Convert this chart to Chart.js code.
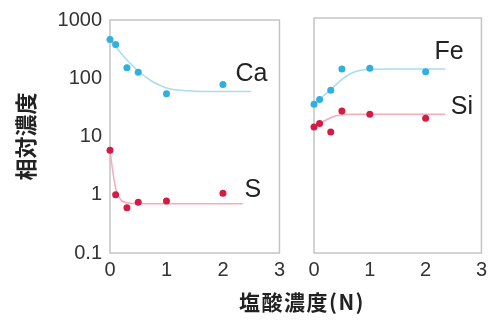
<!DOCTYPE html>
<html>
<head>
<meta charset="utf-8">
<script src="https://cdn.jsdelivr.net/npm/chart.js@4"></script>
<style>
  html, body { margin: 0; padding: 0; background: #fff; }
  #wrap { position: relative; width: 492px; height: 323px; overflow: hidden; }
  #left { position: absolute; left: 0; top: 0; }
  #right { position: absolute; left: 290px; top: 0; }
  #xtitle {
    position: absolute; left: 302px; top: 289px; transform: translateX(-50%);
    font: bold 21px "Noto Sans CJK JP", sans-serif; line-height: 24px;
    letter-spacing: 1.5px; color: #222; white-space: nowrap;
  }
</style>
</head>
<body>
<div id="wrap">
  <canvas id="left" width="290" height="323"></canvas>
  <canvas id="right" width="202" height="323"></canvas>
  <div id="xtitle">塩酸濃度(N)</div>
</div>
<script>
  // 目盛り
  const X_TICKS = [0, 1, 2, 3];
  const Y_TICKS = [0.1, 1, 10, 100, 1000];

  // 測定点 (x: 塩酸濃度 N)
  const X_MEAS = [0, 0.1, 0.3, 0.5, 1, 2];
  const CA = [462, 380, 152, 127, 54, 78];
  const S = [5.8, 1.0, 0.6, 0.74, 0.78, 1.06];
  const FE = [34, 41, 59, 135, 139, 122];
  const SI = [14, 16, 11.5, 26, 23, 19.7];

  // 近似曲線
  const CA_FIT_X = [0, 0.1, 0.2, 0.3, 0.4, 0.5, 0.75, 1.0, 1.25, 1.5, 2.0, 2.5];
  const CA_FIT = [462, 350, 265, 205, 165, 132, 88, 68, 62, 60, 59, 59];
  const S_FIT_X = [0, 0.05, 0.1, 0.15, 0.2, 0.3, 0.5, 1.0, 2.35];
  const S_FIT = [5.8, 2.5, 1.3, 0.95, 0.8, 0.73, 0.70, 0.70, 0.70];
  const FE_FIT_X = [0, 0.1, 0.2, 0.3, 0.4, 0.5, 0.6, 0.7, 0.8, 1.0, 1.5, 2.35];
  const FE_FIT = [34, 41, 50, 60, 74, 90, 105, 118, 127, 134, 136, 136];
  const SI_FIT_X = [0, 0.1, 0.2, 0.3, 0.4, 0.5, 0.75, 1.0, 2.35];
  const SI_FIT = [14, 15.8, 18, 20, 21.7, 22.6, 23, 23, 23];

  // 系列ラベル (データ座標)
  const LEFT_LABELS = [
    { text: 'Ca', x: 2.22, y: 120 },
    { text: 'S', x: 2.38, y: 1.2 },
  ];
  const RIGHT_LABELS = [
    { text: 'Fe', x: 2.16, y: 265 },
    { text: 'Si', x: 2.45, y: 30 },
  ];

  const BLUE = '#2fb0de';
  const RED = '#d31c45';
  const BLUE_LINE = '#a9dcee';
  const RED_LINE = '#f3adb6';
  const FRAME = '#c4c4c4';
  const TICK_FONT = { family: 'Liberation Sans, Arial, sans-serif', size: 20 };

  function pts(xs, ys) {
    return xs.map(function (x, i) { return { x: x, y: ys[i] }; });
  }

  function pointSet(xs, ys, color) {
    return {
      type: 'scatter', data: pts(xs, ys), order: 1, clip: false,
      backgroundColor: color, borderColor: color, borderWidth: 0,
      pointRadius: 3.5,
    };
  }

  function fitSet(xs, ys, color) {
    return {
      type: 'line', data: pts(xs, ys), order: 2,
      borderColor: color, borderWidth: 1.5, pointRadius: 0,
      cubicInterpolationMode: 'monotone', fill: false,
    };
  }

  // 枠線と系列ラベル
  function panelPlugin(labels) {
    return {
      id: 'panel',
      beforeDatasetsDraw: function (chart) {
        const a = chart.chartArea;
        const c = chart.ctx;
        c.save();
        c.strokeStyle = FRAME;
        c.lineWidth = 1.5;
        c.strokeRect(a.left, a.top, a.right - a.left, a.bottom - a.top);
        c.restore();
      },
      afterDraw: function (chart) {
        const c = chart.ctx;
        c.save();
        c.fillStyle = '#222';
        c.font = '25px "Liberation Sans", Arial, sans-serif';
        c.textAlign = 'left';
        c.textBaseline = 'middle';
        labels.forEach(function (l) {
          c.fillText(l.text, chart.scales.x.getPixelForValue(l.x), chart.scales.y.getPixelForValue(l.y));
        });
        c.restore();
      },
    };
  }

  function xScale() {
    return {
      type: 'linear', min: 0, max: 3,
      afterBuildTicks: function (s) { s.ticks = X_TICKS.map(function (v) { return { value: v }; }); },
      afterFit: function (s) { s.height = 70; },
      grid: { display: false, drawTicks: false },
      border: { display: false },
      ticks: { color: '#333', font: TICK_FONT, padding: 5, maxRotation: 0 },
    };
  }

  function yScale(show) {
    return {
      type: 'logarithmic', min: 0.1, max: 1000, display: show,
      afterBuildTicks: function (s) { s.ticks = Y_TICKS.map(function (v) { return { value: v }; }); },
      afterFit: function (s) { s.width = show ? 110 : 0; },
      grid: { display: false, drawTicks: false },
      border: { display: false },
      ticks: {
        color: '#333', font: TICK_FONT, padding: 8,
        callback: function (v) { return String(v); },
      },
      title: {
        display: show, text: '相対濃度', color: '#222',
        font: { family: '"Noto Sans CJK JP", sans-serif', size: 22, weight: 'bold' },
        padding: { top: 12, bottom: 0 },
      },
    };
  }

  const common = {
    responsive: false,
    animation: false,
    events: [],
    plugins: { legend: { display: false }, tooltip: { enabled: false } },
  };

  new Chart(document.getElementById('left'), {
    data: {
      datasets: [
        fitSet(CA_FIT_X, CA_FIT, BLUE_LINE),
        fitSet(S_FIT_X, S_FIT, RED_LINE),
        pointSet(X_MEAS, CA, BLUE),
        pointSet(X_MEAS, S, RED),
      ],
    },
    options: Object.assign({}, common, {
      layout: { padding: { left: 0, right: 10, top: 18, bottom: 0 } },
      scales: { x: xScale(), y: yScale(true) },
    }),
    plugins: [panelPlugin(LEFT_LABELS)],
  });

  new Chart(document.getElementById('right'), {
    data: {
      datasets: [
        fitSet(FE_FIT_X, FE_FIT, BLUE_LINE),
        fitSet(SI_FIT_X, SI_FIT, RED_LINE),
        pointSet(X_MEAS, FE, BLUE),
        pointSet(X_MEAS, SI, RED),
      ],
    },
    options: Object.assign({}, common, {
      layout: { padding: { left: 24, right: 9, top: 18, bottom: 0 } },
      scales: { x: xScale(), y: yScale(false) },
    }),
    plugins: [panelPlugin(RIGHT_LABELS)],
  });
</script>
</body>
</html>
